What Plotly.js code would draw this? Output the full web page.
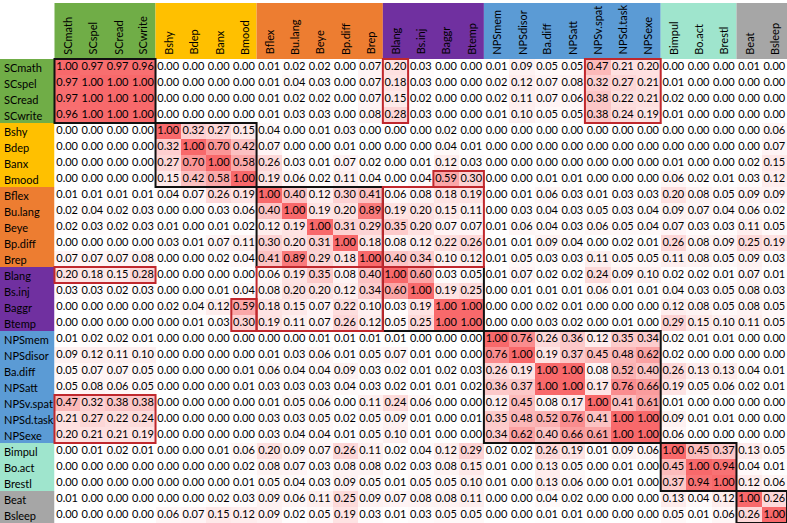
<!DOCTYPE html>
<html>
<head>
<meta charset="utf-8">
<script src="https://cdn.plot.ly/plotly-3.0.1.min.js"></script>
<style>
  html, body { margin: 0; padding: 0; background: #fff; }
  #chart { width: 787px; height: 523px; }
</style>
</head>
<body>
<div id="chart"></div>
<script>
/* correlation matrix, read row by row */
const labels = ['SCmath','SCspel','SCread','SCwrite','Bshy','Bdep','Banx','Bmood',
  'Bflex','Bu.lang','Beye','Bp.diff','Brep','Blang','Bs.inj','Baggr','Btemp',
  'NPSmem','NPSdisor','Ba.diff','NPSatt','NPSv.spat','NPSd.task','NPSexe',
  'Bimpul','Bo.act','Brestl','Beat','Bsleep'];

// group sizes, in label order
const groupSizes = [4, 4, 5, 4, 7, 3, 2];
const groupColors = ['#70AD47','#FFC000','#ED7D31','#7030A0','#5B9BD5','#9FE5CD','#A6A6A6'];

const corr = [
  [1.00,0.97,0.97,0.96, 0,0,0,0, 0.01,0.02,0.02,0.00,0.07, 0.20,0.03,0,0, 0.01,0.09,0.05,0.05,0.47,0.21,0.20, 0,0,0, 0.01,0],
  [0.97,1,1,1, 0,0,0,0, 0.01,0.04,0.03,0,0.07, 0.18,0.03,0,0, 0.02,0.12,0.07,0.08,0.32,0.27,0.21, 0.01,0,0, 0,0],
  [0.97,1,1,1, 0,0,0,0, 0.01,0.02,0.02,0,0.07, 0.15,0.02,0,0, 0.02,0.11,0.07,0.06,0.38,0.22,0.21, 0.02,0,0, 0,0],
  [0.96,1,1,1, 0,0,0,0, 0.01,0.03,0.03,0,0.08, 0.28,0.03,0,0, 0.01,0.10,0.05,0.05,0.38,0.24,0.19, 0.01,0,0, 0,0],
  [0,0,0,0, 1,0.32,0.27,0.15, 0.04,0,0.01,0.03,0, 0,0,0.02,0, 0,0,0,0,0,0,0, 0,0,0, 0,0.06],
  [0,0,0,0, 0.32,1,0.70,0.42, 0.07,0,0,0.01,0, 0,0,0.04,0.01, 0,0,0,0,0,0,0, 0,0,0, 0,0.07],
  [0,0,0,0, 0.27,0.70,1,0.58, 0.26,0.03,0.01,0.07,0.02, 0,0.01,0.12,0.03, 0,0,0,0,0,0,0, 0.01,0,0, 0.02,0.15],
  [0,0,0,0, 0.15,0.42,0.58,1, 0.19,0.06,0.02,0.11,0.04, 0,0.04,0.59,0.30, 0,0,0.01,0.01,0,0,0, 0.06,0.02,0.01, 0.03,0.12],
  [0.01,0.01,0.01,0.01, 0.04,0.07,0.26,0.19, 1,0.40,0.12,0.30,0.41, 0.06,0.08,0.18,0.19, 0,0.01,0.06,0.03,0.01,0.03,0.03, 0.20,0.08,0.05, 0.09,0.09],
  [0.02,0.04,0.02,0.03, 0,0,0.03,0.06, 0.40,1,0.19,0.20,0.89, 0.19,0.20,0.15,0.11, 0,0.03,0.04,0.03,0.05,0.03,0.04, 0.09,0.07,0.04, 0.06,0.02],
  [0.02,0.03,0.02,0.03, 0.01,0,0.01,0.02, 0.12,0.19,1,0.31,0.29, 0.35,0.20,0.07,0.07, 0.01,0.06,0.04,0.03,0.06,0.05,0.04, 0.07,0.03,0.03, 0.11,0.05],
  [0,0,0,0, 0.03,0.01,0.07,0.11, 0.30,0.20,0.31,1,0.18, 0.08,0.12,0.22,0.26, 0.01,0.01,0.09,0.04,0,0.02,0.01, 0.26,0.08,0.09, 0.25,0.19],
  [0.07,0.07,0.07,0.08, 0,0,0.02,0.04, 0.41,0.89,0.29,0.18,1, 0.40,0.34,0.10,0.12, 0.01,0.05,0.03,0.03,0.11,0.05,0.05, 0.11,0.08,0.05, 0.09,0.03],
  [0.20,0.18,0.15,0.28, 0,0,0,0, 0.06,0.19,0.35,0.08,0.40, 1,0.60,0.03,0.05, 0.01,0.07,0.02,0.02,0.24,0.09,0.10, 0.02,0.02,0.01, 0.07,0.01],
  [0.03,0.03,0.02,0.03, 0,0,0.01,0.04, 0.08,0.20,0.20,0.12,0.34, 0.60,1,0.19,0.25, 0,0.01,0.01,0.01,0.06,0.01,0.01, 0.04,0.03,0.05, 0.08,0.03],
  [0,0,0,0, 0.02,0.04,0.12,0.59, 0.18,0.15,0.07,0.22,0.10, 0.03,0.19,1,1, 0,0,0.02,0.01,0,0,0, 0.12,0.08,0.05, 0.08,0.05],
  [0,0,0,0, 0,0.01,0.03,0.30, 0.19,0.11,0.07,0.26,0.12, 0.05,0.25,1,1, 0,0,0.03,0.02,0,0.01,0, 0.29,0.15,0.10, 0.11,0.05],
  [0.01,0.02,0.02,0.01, 0,0,0,0, 0,0,0.01,0.01,0.01, 0.01,0,0,0, 1,0.76,0.26,0.36,0.12,0.35,0.34, 0.02,0.01,0.01, 0,0],
  [0.09,0.12,0.11,0.10, 0,0,0,0, 0.01,0.03,0.06,0.01,0.05, 0.07,0.01,0,0, 0.76,1,0.19,0.37,0.45,0.48,0.62, 0.02,0,0, 0,0],
  [0.05,0.07,0.07,0.05, 0,0,0,0.01, 0.06,0.04,0.04,0.09,0.03, 0.02,0.01,0.02,0.03, 0.26,0.19,1,1,0.08,0.52,0.40, 0.26,0.13,0.13, 0.04,0.01],
  [0.05,0.08,0.06,0.05, 0,0,0,0.01, 0.03,0.03,0.03,0.04,0.03, 0.02,0.01,0.01,0.02, 0.36,0.37,1,1,0.17,0.76,0.66, 0.19,0.05,0.06, 0.02,0.01],
  [0.47,0.32,0.38,0.38, 0,0,0,0, 0.01,0.05,0.06,0,0.11, 0.24,0.06,0,0, 0.12,0.45,0.08,0.17,1,0.41,0.61, 0.01,0,0, 0,0],
  [0.21,0.27,0.22,0.24, 0,0,0,0, 0.03,0.03,0.05,0.02,0.05, 0.09,0.01,0,0.01, 0.35,0.48,0.52,0.76,0.41,1,1, 0.09,0.01,0.01, 0,0],
  [0.20,0.21,0.21,0.19, 0,0,0,0, 0.03,0.04,0.04,0.01,0.05, 0.10,0.01,0,0, 0.34,0.62,0.40,0.66,0.61,1,1, 0.06,0,0, 0,0],
  [0,0.01,0.02,0.01, 0,0,0.01,0.06, 0.20,0.09,0.07,0.26,0.11, 0.02,0.04,0.12,0.29, 0.02,0.02,0.26,0.19,0.01,0.09,0.06, 1,0.45,0.37, 0.13,0.05],
  [0,0,0,0, 0,0,0,0.02, 0.08,0.07,0.03,0.08,0.08, 0.02,0.03,0.08,0.15, 0.01,0,0.13,0.05,0,0.01,0, 0.45,1,0.94, 0.04,0.01],
  [0,0,0,0, 0,0,0,0.01, 0.05,0.04,0.03,0.09,0.05, 0.01,0.05,0.05,0.10, 0.01,0,0.13,0.06,0,0.01,0, 0.37,0.94,1, 0.12,0.06],
  [0.01,0,0,0, 0,0,0.02,0.03, 0.09,0.06,0.11,0.25,0.09, 0.07,0.08,0.08,0.11, 0,0,0.04,0.02,0,0,0, 0.13,0.04,0.12, 1,0.26],
  [0,0,0,0, 0.06,0.07,0.15,0.12, 0.09,0.02,0.05,0.19,0.03, 0.01,0.03,0.05,0.05, 0,0,0.01,0.01,0,0,0, 0.05,0.01,0.06, 0.26,1]
];

// highlighted blocks: [row0, row1, col0, col1]
const redBoxes = [
  [0,3,13,13], [0,3,21,23], [7,7,15,16], [8,12,13,16], [13,16,8,12],
  [13,13,0,3], [15,16,7,7], [21,23,0,3]
];

/* ── geometry (in cell units) ── */
const N = labels.length;
const W = 787, H = 523;
const CELL_W = (W - 54.5) / N;
const CELL_H = 16;
const X0 = -0.5 - 54.5 / CELL_W;          // left edge of label column
const Y0 = -0.5 - (H - N * CELL_H) / CELL_H; // top edge of page
const HEAD_TOP = Y0 + 3 / CELL_H;
const FONT = 'Lato, "Noto Sans", sans-serif';

const idx = labels.map((_, i) => i);

const heat = {
  type: 'heatmap',
  x: idx, y: idx, z: corr,
  zmin: 0, zmax: 1,
  colorscale: [[0, '#ffffff'], [1, '#f8696b']],
  showscale: false,
  hoverinfo: 'skip'
};

// cell numbers as a text layer, always black
const tx = [], ty = [], tt = [];
corr.forEach((row, r) => row.forEach((v, c) => {
  tx.push(c); ty.push(r); tt.push(v.toFixed(2));
}));
const nums = {
  type: 'scatter', mode: 'text',
  x: tx, y: ty, text: tt,
  textposition: 'middle center',
  textfont: { family: FONT, size: 11, color: '#000' },
  hoverinfo: 'skip'
};

const shapes = [];
const annotations = [];

// group colour bands: header + row label column
let start = 0;
groupSizes.forEach((n, g) => {
  const end = start + n - 1;
  shapes.push({ type: 'rect', xref: 'x', yref: 'y', layer: 'below',
    x0: start - 0.5, x1: end + 0.5, y0: HEAD_TOP, y1: -0.5,
    fillcolor: groupColors[g], line: { width: 0 } });
  shapes.push({ type: 'rect', xref: 'x', yref: 'y', layer: 'below',
    x0: X0, x1: -0.5, y0: start - 0.5, y1: end + 0.5,
    fillcolor: groupColors[g], line: { width: 0 } });
  // black box on diagonal block
  shapes.push({ type: 'rect', xref: 'x', yref: 'y',
    x0: start - 0.5, x1: end + 0.5, y0: start - 0.5, y1: end + 0.5,
    line: { color: '#111', width: 2 } });
  start += n;
});

redBoxes.forEach(([r0, r1, c0, c1]) => {
  shapes.push({ type: 'rect', xref: 'x', yref: 'y',
    x0: c0 - 0.5, x1: c1 + 0.5, y0: r0 - 0.5, y1: r1 + 0.5,
    line: { color: '#c0282d', width: 2 } });
});

labels.forEach((lab, i) => {
  annotations.push({ x: X0 + 2 / CELL_W, y: i, xref: 'x', yref: 'y',
    text: lab, showarrow: false, xanchor: 'left', yanchor: 'middle',
    font: { family: FONT, size: 11, color: '#000' } });
  annotations.push({ x: i, y: -0.65, xref: 'x', yref: 'y',
    text: lab, showarrow: false, textangle: -90, xanchor: 'center', yanchor: 'bottom',
    font: { family: FONT, size: 11, color: '#000' } });
});

const layout = {
  width: W, height: H,
  margin: { l: 0, r: 0, t: 0, b: 0, pad: 0 },
  paper_bgcolor: '#fff', plot_bgcolor: '#fff',
  xaxis: { range: [X0, N - 0.5], showgrid: false, zeroline: false, showticklabels: false, ticks: '', fixedrange: true },
  yaxis: { range: [N - 0.5, Y0], showgrid: false, zeroline: false, showticklabels: false, ticks: '', fixedrange: true },
  shapes, annotations,
  showlegend: false
};

Plotly.newPlot('chart', [heat, nums], layout, { staticPlot: true, displayModeBar: false });
</script>
</body>
</html>
